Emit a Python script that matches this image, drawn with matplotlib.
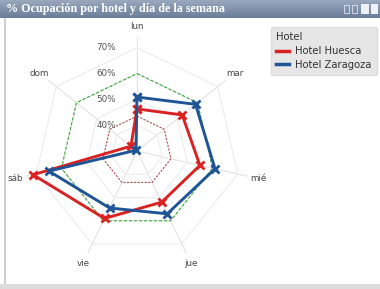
import numpy as np
import matplotlib
matplotlib.use('Agg')
import matplotlib.pyplot as plt
from matplotlib.lines import Line2D
from matplotlib.patches import Rectangle

dias = ['lun', 'mar', 'mié', 'jue', 'vie', 'sáb', 'dom']
huesca = [46.3, 52.4, 55.0, 52.0, 59.0, 71.3, 33.0]
zaragoza = [50.9, 59.0, 61.0, 57.0, 54.5, 65.0, 30.5]
objetivo = 60.0
minimo = 43.5
anillos = [40, 50, 60, 70]
r_min, r_max = 30, 74

W, H = 380, 289
fig = plt.figure(figsize=(W / 100, H / 100), dpi=100)
fig.patch.set_facecolor('white')

# title bar
bar = fig.add_axes([0, 1 - 18 / H, 1, 18 / H])
grad = np.linspace(0, 1, 32).reshape(-1, 1)
bar.imshow(grad, aspect='auto', cmap=matplotlib.colors.LinearSegmentedColormap.from_list(
    'tb', ['#9aa8bd', '#6a7d99']), extent=[0, 1, 0, 1])
bar.set_xlim(0, 1)
bar.set_ylim(0, 1)
bar.axis('off')
bar.text(6 / W, 0.5, '% Ocupación por hotel y día de la semana', color='white',
         fontsize=8.7, fontweight='bold', family='Liberation Serif', va='center', ha='left')
for x0 in [344, 352]:
    bar.add_patch(Rectangle((x0 / W, 0.3), 5 / W, 0.45, facecolor='none', edgecolor='#dfe5ee', lw=0.6))
bar.add_patch(Rectangle((361 / W, 0.2), 8 / W, 0.6, facecolor='#eef2f7', edgecolor='none'))
bar.add_patch(Rectangle((371 / W, 0.2), 7 / W, 0.6, facecolor='#eef2f7', edgecolor='none'))

# panel borders
fig.patches.append(Rectangle((0, 0), 1, 5 / H, transform=fig.transFigure,
                             facecolor='#dcdcdc', edgecolor='none'))
fig.patches.append(Rectangle((4 / W, 5 / H), 2 / W, 1 - 23 / H, transform=fig.transFigure,
                             facecolor='#cfcfcf', edgecolor='none'))

# radar
cx, cy = 137, 151
rad = 113.6
ax = fig.add_axes([(cx - rad) / W, (H - cy - rad) / H, 2 * rad / W, 2 * rad / H],
                  projection='polar')
ax.set_theta_zero_location('N')
ax.set_theta_direction(-1)
ax.set_ylim(r_min, r_max)
ax.grid(False)
ax.spines['polar'].set_visible(False)
ax.set_xticks([])
ax.set_yticks([])
ax.patch.set_alpha(0)

n = len(dias)
theta = np.arange(n) * 2 * np.pi / n
tc = np.append(theta, theta[0])

for t in theta:
    ax.plot([t, t], [r_min, r_max], color='#e2e2e2', lw=0.8, zorder=1)
for r in anillos:
    ax.plot(tc, [r] * (n + 1), color='#ececec', lw=0.8, zorder=1)
    ax.annotate(f'{r}%', (0, r), xytext=(-21, 0), textcoords='offset pixels',
                ha='right', va='center', fontsize=6.3, color='#555555', zorder=2)

ax.plot(tc, [objetivo] * (n + 1), color='#3fa63f', lw=0.8, ls=(0, (3, 1.5)), zorder=2)
ax.plot(tc, [minimo] * (n + 1), color='#a85050', lw=0.8, ls=(0, (2, 1.2)), zorder=2)

def cerrar(v):
    return list(v) + [v[0]]

ax.plot(tc, cerrar(huesca), color='#d92323', lw=2.1, marker='x', ms=5.5, mew=2, zorder=4,
        clip_on=False)
ax.plot(tc, cerrar(zaragoza), color='#1f5596', lw=2.1, marker='x', ms=5.5, mew=2, zorder=5,
        clip_on=False)

for t, d in zip(theta, dias):
    ax.text(t, 78.3, d, ha='center', va='center', fontsize=6.3, color='#444444', clip_on=False)

handles = [Line2D([], [], color='#d92323', lw=2.5), Line2D([], [], color='#1f5596', lw=2.5)]
leg = fig.legend(handles, ['Hotel Huesca', 'Hotel Zaragoza'], title='Hotel',
                 loc='upper right', bbox_to_anchor=(382 / W, 1 - 22 / H),
                 fontsize=7.2, title_fontsize=7.2, handlelength=1.3, handletextpad=0.6,
                 labelspacing=0.35, borderpad=0.55, frameon=True, fancybox=True,
                 alignment='left')
leg.get_frame().set_facecolor('#e6e6e6')
leg.get_frame().set_edgecolor('#dddddd')
leg.get_frame().set_alpha(1)
for t in leg.get_texts():
    t.set_color('#333333')
leg.get_title().set_color('#333333')

fig.savefig('out.png', dpi=100)
